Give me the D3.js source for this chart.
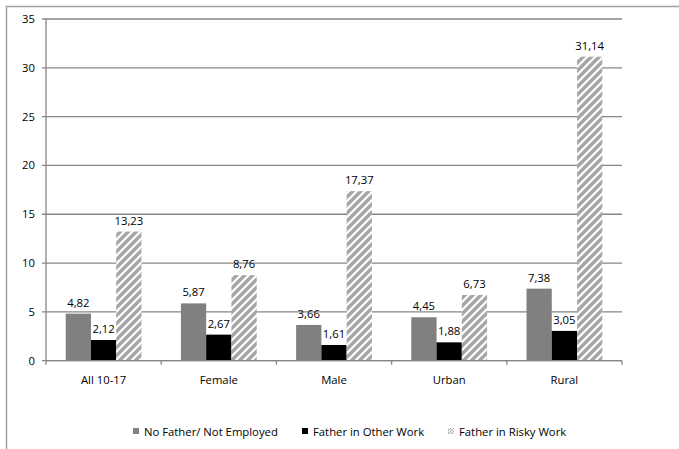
<!DOCTYPE html>
<html><head><meta charset="utf-8">
<script src="https://cdn.jsdelivr.net/npm/d3@7"></script>
<style>body{margin:0;background:#fff}svg{display:block}text{font-family:"Open Sans",sans-serif;font-size:11.3px;fill:#000}</style>
</head><body>
<script>
const categories = ["All 10-17","Female","Male","Urban","Rural"];
const seriesNames = ["No Father/ Not Employed","Father in Other Work","Father in Risky Work"];
const noFather = [4.82,5.87,3.66,4.45,7.38];
const otherWork = [2.12,2.67,1.61,1.88,3.05];
const riskyWork = [13.23,8.76,17.37,6.73,31.14];
const yTicks = [0,5,10,15,20,25,30,35];
const series = [noFather, otherWork, riskyWork];

const W=679,H=449;
const svg=d3.select("body").append("svg").attr("width",W).attr("height",H);
const defs=svg.append("defs");
const pat=defs.append("pattern").attr("id","hatch").attr("patternUnits","userSpaceOnUse")
 .attr("width",8).attr("height",8);
pat.append("rect").attr("width",8).attr("height",8).attr("fill","#fff");
pat.append("path").attr("d","M-2,2 L2,-2 M0,8 L8,0 M6,10 L10,6").attr("stroke","#a6a6a6").attr("stroke-width",3.4);
const pat2=defs.append("pattern").attr("id","hatchS").attr("patternUnits","userSpaceOnUse")
 .attr("width",3).attr("height",3);
pat2.append("rect").attr("width",3).attr("height",3).attr("fill","#fff");
pat2.append("path").attr("d","M0,3 L3,0").attr("stroke","#a6a6a6").attr("stroke-width",1.2);

const fills=["#808080","#000000","url(#hatch)"];
const legendFills=["#808080","#000000","url(#hatchS)"];

svg.append("path").attr("d","M6.5,449 L6.5,6.5 L679,6.5").attr("fill","none").attr("stroke","#a0a0a0").attr("stroke-width",1.5);

const pLeft=46,pRight=622,pTop=19,pBottom=360.7;
const x=d3.scaleBand().domain(categories).range([pLeft,pRight]);
const y=d3.scaleLinear().domain([0,35]).range([pBottom,pTop]);
const inner=d3.scaleBand().domain([0,1,2]).range([0,x.bandwidth()]).paddingOuter(0.78).paddingInner(0);

const grid=svg.append("g");
yTicks.forEach(t=>{
  grid.append("line").attr("x1",pLeft-4).attr("x2",pRight).attr("y1",y(t)).attr("y2",y(t)).attr("stroke","#868686").attr("stroke-width",1.3);
  svg.append("text").attr("x",35).attr("y",y(t)+4).attr("text-anchor","end").text(t);
});
svg.append("line").attr("x1",pLeft).attr("x2",pLeft).attr("y1",pTop).attr("y2",pBottom+4).attr("stroke","#868686").attr("stroke-width",1.3);
categories.forEach((c,i)=>{
  const xx=x(c)+x.bandwidth();
  svg.append("line").attr("x1",xx).attr("x2",xx).attr("y1",pBottom).attr("y2",pBottom+4).attr("stroke","#868686").attr("stroke-width",1.3);
});

series.forEach((s,si)=>{
  const g=svg.append("g");
  g.selectAll("rect").data(s).join("rect")
   .attr("x",(d,i)=>x(categories[i])+inner(si))
   .attr("width",inner.bandwidth())
   .attr("y",d=>y(d)).attr("height",d=>y(0)-y(d))
   .attr("fill",fills[si]);
  g.selectAll("text").data(s).join("text")
   .attr("x",(d,i)=>x(categories[i])+inner(si)+inner.bandwidth()/2)
   .attr("y",d=>y(d)-7).attr("text-anchor","middle")
   .text(d=>d.toFixed(2).replace(".",","));
});
svg.append("line").attr("x1",pLeft).attr("x2",pRight).attr("y1",pBottom).attr("y2",pBottom).attr("stroke","#868686").attr("stroke-width",1.3);

categories.forEach(c=>{
  svg.append("text").attr("x",x(c)+x.bandwidth()/2).attr("y",384).attr("text-anchor","middle").text(c);
});

const legX=[133,302,448];
seriesNames.forEach((n,i)=>{
  svg.append("rect").attr("x",legX[i]).attr("y",428).attr("width",6).attr("height",6).attr("fill",legendFills[i]);
  svg.append("text").attr("x",legX[i]+11).attr("y",435.5).text(n);
});
</script>
</body></html>
